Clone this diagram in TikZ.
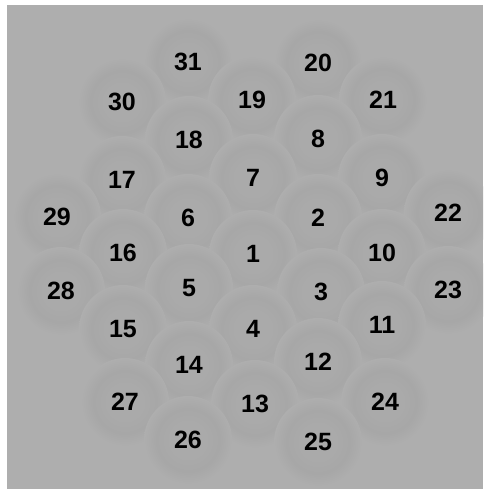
\documentclass[tikz,border=0pt]{standalone}
\usepackage{fontspec}
\setmainfont{Liberation Sans}
\definecolor{bgc}{RGB}{174,174,174}
\definecolor{cellc}{RGB}{170,170,170}
\definecolor{cellr}{RGB}{167,167,167}
\pgfdeclareradialshading{cellshade}{\pgfpoint{0bp}{0bp}}{color(0bp)=(cellc); color(10bp)=(cellc); color(18bp)=(cellr); color(25bp)=(bgc); color(50bp)=(bgc)}
\tikzset{
  cellblob/.style={circle, minimum size=88pt, inner sep=0pt, shading=cellshade},
  lbl/.style={inner sep=0pt, font=\fontsize{25}{25}\selectfont\bfseries, text=black}
}
\begin{document}
\begin{tikzpicture}[x=1pt,y=1pt]
\useasboundingbox (0,0) rectangle (483,-489);
\fill[white] (0,0) rectangle (483,-489);
\fill[bgc] (7,-5) rectangle (483,-489);
\def\cells{31/188/62, 20/318/63, 30/122/102, 19/252/100, 21/383/100,
 18/189/140, 8/318/139, 17/122/180, 7/253/178, 9/382/178,
 29/57/217, 6/188/218, 2/318/218, 22/448/213,
 16/123/253, 1/253/254, 10/382/253,
 28/61/291, 5/189/288, 3/321/292, 23/448/290,
 15/123/329, 4/253/329, 11/382/325,
 14/189/365, 12/318/362,
 27/125/402, 13/255/404, 24/385/402,
 26/188/440, 25/318/442}
\begin{scope}
\clip (7,-5) rectangle (483,-489);
\foreach \n/\x/\y in \cells {
  \node[cellblob] (c\n) at (\x,-\y) {};
}
\end{scope}
\foreach \n/\x/\y in \cells {
  \node[lbl] (n\n) at (\x,-\y) {\n};
}
\end{tikzpicture}
\end{document}
